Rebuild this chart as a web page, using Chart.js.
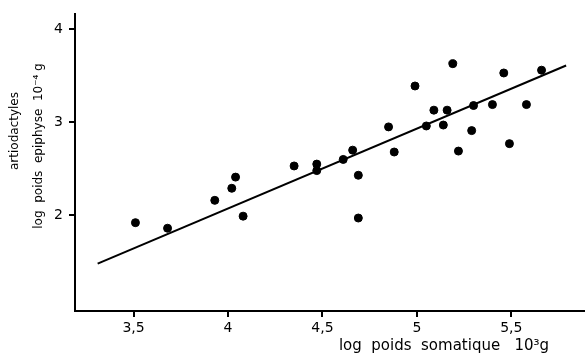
<!DOCTYPE html>
<html>
<head>
<meta charset="utf-8">
<script src="https://cdn.jsdelivr.net/npm/chart.js@4"></script>
<style>
  html, body { margin: 0; padding: 0; background: #fff; }
  #wrap { width: 585px; height: 355px; position: relative; }
</style>
</head>
<body>
<div id="wrap"><canvas id="chart"></canvas></div>
<script>
// log body weight (x) vs log epiphysis weight (y), artiodactyls
const xValues = [3.51, 3.68, 3.93, 4.02, 4.04, 4.08, 4.35, 4.47, 4.47, 4.61,
  4.66, 4.69, 4.69, 4.85, 4.88, 4.99, 5.05, 5.09, 5.14, 5.16,
  5.19, 5.22, 5.29, 5.30, 5.40, 5.46, 5.49, 5.58, 5.66];
const yValues = [1.92, 1.86, 2.16, 2.29, 2.41, 1.99, 2.53, 2.55, 2.48, 2.60,
  2.70, 2.43, 1.97, 2.95, 2.68, 3.39, 2.96, 3.13, 2.97, 3.13,
  3.63, 2.69, 2.91, 3.18, 3.19, 3.53, 2.77, 3.19, 3.56];

// regression line end points
const fitX = [3.31, 5.79];
const fitY = [1.48, 3.61];

const xTicks = [3.5, 4, 4.5, 5, 5.5];
const yTicks = [2, 3, 4];

const xTitle = 'log  poids  somatique   10³g';
const yTitle = ['artiodactyles', 'log  poids  epiphyse  10⁻⁴ g'];

const points = xValues.map((x, i) => ({ x: x, y: yValues[i] }));
const fitLine = fitX.map((x, i) => ({ x: x, y: fitY[i] }));

// axis titles placed like the original figure
const titlesPlugin = {
  id: 'titles',
  afterDraw(chart) {
    const ctx = chart.ctx;
    ctx.save();
    ctx.fillStyle = '#000';
    ctx.textAlign = 'center';
    ctx.textBaseline = 'middle';
    ctx.font = '15px "DejaVu Sans"';
    ctx.fillText(xTitle, 444, 346);

    ctx.font = '12px "DejaVu Sans"';
    ctx.translate(15, 131);
    ctx.rotate(-Math.PI / 2);
    ctx.fillText(yTitle[0], 0, 0);
    ctx.restore();

    ctx.save();
    ctx.fillStyle = '#000';
    ctx.textAlign = 'center';
    ctx.textBaseline = 'middle';
    ctx.font = '12px "DejaVu Sans"';
    ctx.translate(39, 146);
    ctx.rotate(-Math.PI / 2);
    ctx.fillText(yTitle[1], 0, 0);
    ctx.restore();
  }
};

const fmt = v => String(v).replace('.', ',');

new Chart(document.getElementById('chart'), {
  type: 'scatter',
  data: {
    datasets: [
      {
        label: 'artiodactyles',
        data: points,
        backgroundColor: '#000',
        borderColor: '#000',
        pointRadius: 4,
        pointHoverRadius: 4
      },
      {
        type: 'line',
        label: 'regression',
        data: fitLine,
        borderColor: '#000',
        borderWidth: 2,
        pointRadius: 0,
        fill: false
      }
    ]
  },
  options: {
    responsive: true,
    maintainAspectRatio: false,
    animation: false,
    layout: { autoPadding: false, padding: { top: 12, right: 0, left: 0, bottom: 0 } },
    plugins: {
      legend: { display: false },
      tooltip: { enabled: false }
    },
    scales: {
      x: {
        type: 'linear',
        min: 3.19,
        max: 5.89,
        afterBuildTicks: s => { s.ticks = xTicks.map(v => ({ value: v })); },
        afterFit: s => { s.height = 44; },
        grid: { drawOnChartArea: false, drawTicks: true, tickLength: 6, color: '#000', lineWidth: 2 },
        border: { color: '#000', width: 2 },
        ticks: {
          color: '#000',
          font: { family: 'DejaVu Sans', size: 14 },
          padding: 3,
          maxRotation: 0,
          callback: v => fmt(v)
        }
      },
      y: {
        type: 'linear',
        min: 0.97,
        max: 4.16,
        afterBuildTicks: s => { s.ticks = yTicks.map(v => ({ value: v })); },
        afterFit: s => { s.width = 75; },
        grid: { drawOnChartArea: false, drawTicks: true, tickLength: 6, color: '#000', lineWidth: 2 },
        border: { color: '#000', width: 2 },
        ticks: {
          color: '#000',
          font: { family: 'DejaVu Sans', size: 14 },
          padding: 6,
          callback: v => fmt(v)
        }
      }
    }
  },
  plugins: [titlesPlugin]
});
</script>
</body>
</html>
